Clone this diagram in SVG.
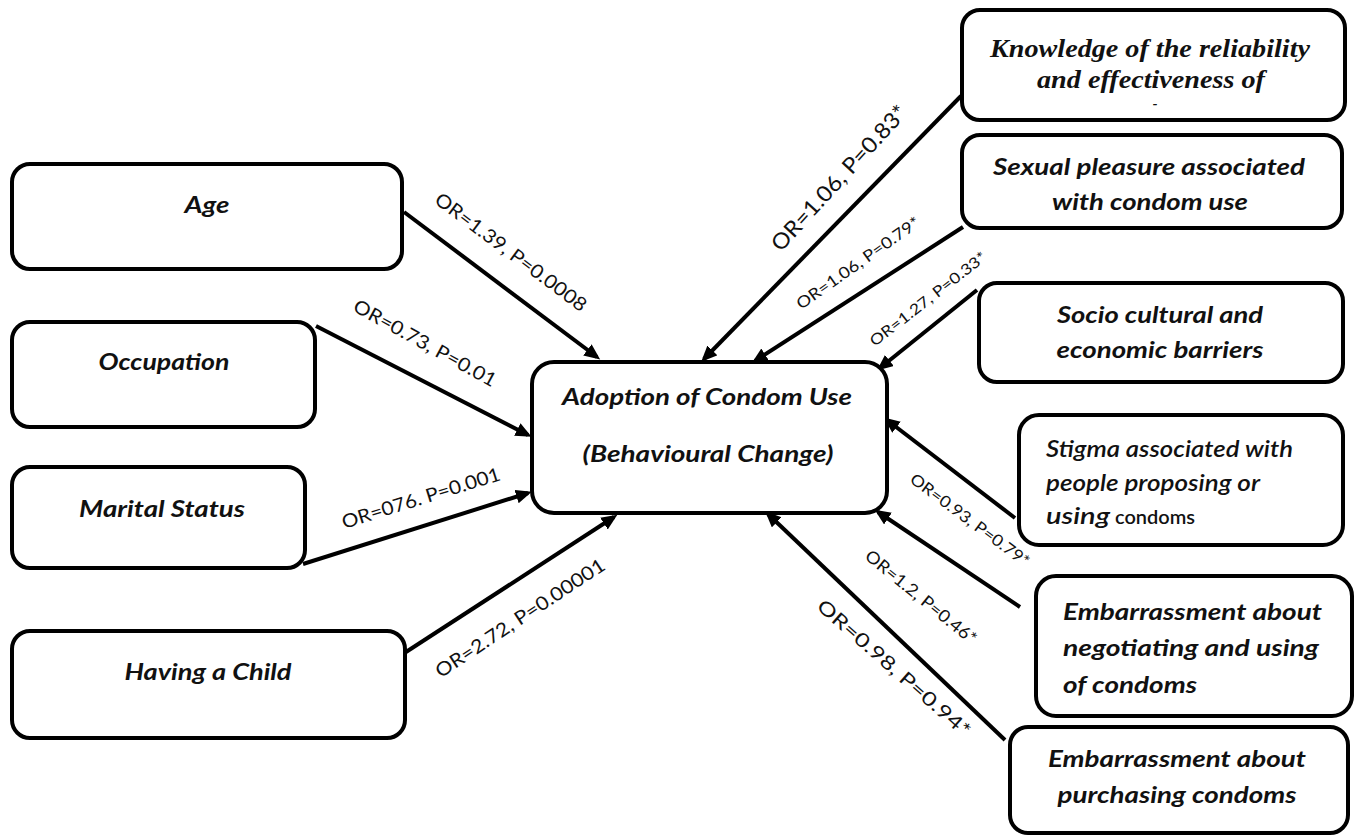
<svg xmlns="http://www.w3.org/2000/svg" width="1356" height="838" viewBox="0 0 1356 838">
<style>
.box{fill:#fff;stroke:#000;stroke-width:4}
.nt{font-family:Lato,"Liberation Sans",sans-serif;font-style:italic;font-weight:bold;font-size:23px;fill:#111}
.ser{font-family:"Liberation Serif",serif;font-style:italic;font-weight:bold;font-size:25px;fill:#111}
.lab{font-family:Lato,"Liberation Sans",sans-serif;font-size:19px;fill:#111}
.edge{stroke:#000;stroke-width:4;fill:none;marker-end:url(#ah)}
</style>
<defs>
<marker id="ah" markerUnits="userSpaceOnUse" markerWidth="17" markerHeight="15" refX="12" refY="7" orient="auto" viewBox="0 0 17 15">
<path d="M0,0 L16,7 L0,14 z" fill="#000"/>
</marker>
</defs>
<rect width="1356" height="838" fill="#fff"/>

<g id="connectors">
<line class="edge" x1="404" y1="212" x2="597" y2="357"/>
<line class="edge" x1="316" y1="326" x2="528" y2="435"/>
<line class="edge" x1="303" y1="564" x2="528" y2="493"/>
<line class="edge" x1="406" y1="652" x2="614" y2="517"/>
<line class="edge" x1="961" y1="96" x2="704" y2="359"/>
<line class="edge" x1="963" y1="227" x2="755" y2="361"/>
<line class="edge" x1="977" y1="290" x2="880" y2="368"/>
<line class="edge" x1="1015" y1="518" x2="887" y2="420"/>
<line class="edge" x1="1020" y1="607" x2="878" y2="512"/>
<line class="edge" x1="1005" y1="740" x2="768" y2="514"/>
</g>

<g id="edge-labels">
<text class="lab" transform="translate(511,252) rotate(36.8)" text-anchor="middle" dy="0.35em" textLength="184" lengthAdjust="spacingAndGlyphs">OR=1.39, P=0.0008</text>
<text class="lab" transform="translate(425,343) rotate(28.8)" text-anchor="middle" dy="0.35em" textLength="160" lengthAdjust="spacingAndGlyphs">OR=0.73, P=0.01</text>
<text class="lab" transform="translate(421,498) rotate(-17.3)" text-anchor="middle" dy="0.35em" textLength="165" lengthAdjust="spacingAndGlyphs">OR=076. P=0.001</text>
<text class="lab" transform="translate(520,618) rotate(-33.5)" text-anchor="middle" dy="0.35em" textLength="199" lengthAdjust="spacingAndGlyphs">OR=2.72, P=0.00001</text>
<text class="lab" style="font-size:22px" transform="translate(839,178) rotate(-47.4)" text-anchor="middle" dy="0.35em" textLength="189" lengthAdjust="spacingAndGlyphs">OR=1.06, P=0.83*</text>
<text class="lab" style="font-size:16px" transform="translate(858,263) rotate(-35.3)" text-anchor="middle" dy="0.35em" textLength="147" lengthAdjust="spacingAndGlyphs">OR=1.06, P=0.79*</text>
<text class="lab" style="font-size:15px" transform="translate(928,299) rotate(-37.9)" text-anchor="middle" dy="0.35em" textLength="143" lengthAdjust="spacingAndGlyphs">OR=1.27, P=0.33*</text>
<text class="lab" style="font-size:16px" transform="translate(970,520) rotate(36.6)" text-anchor="middle" dy="0.35em" textLength="144" lengthAdjust="spacingAndGlyphs">OR=0.93, P=0.79*</text>
<text class="lab" style="font-size:17px" transform="translate(921,597) rotate(39.1)" text-anchor="middle" dy="0.35em" textLength="138" lengthAdjust="spacingAndGlyphs">OR=1.2, P=0.46*</text>
<text class="lab" style="font-size:19px" transform="translate(894,668) rotate(41.3)" text-anchor="middle" dy="0.35em" textLength="197" lengthAdjust="spacingAndGlyphs">OR=0.98, P=0.94*</text>
</g>

<g id="center">
<rect class="box" x="532" y="362" width="355" height="151" rx="22"/>
<text class="nt" x="707" y="405" text-anchor="middle" textLength="290" lengthAdjust="spacingAndGlyphs">Adoption of Condom Use</text>
<text class="nt" x="708" y="462" text-anchor="middle" textLength="251" lengthAdjust="spacingAndGlyphs">(Behavioural Change)</text>
</g>

<g id="age">
<rect class="box" x="12" y="164" width="390" height="105" rx="18"/>
<text class="nt" x="207" y="213" text-anchor="middle" textLength="45" lengthAdjust="spacingAndGlyphs">Age</text>
</g>
<g id="occupation">
<rect class="box" x="12" y="322" width="303" height="105" rx="18"/>
<text class="nt" x="164" y="370" text-anchor="middle" textLength="131" lengthAdjust="spacingAndGlyphs">Occupation</text>
</g>
<g id="marital">
<rect class="box" x="12" y="467" width="293" height="101" rx="18"/>
<text class="nt" x="162" y="517" text-anchor="middle" textLength="166" lengthAdjust="spacingAndGlyphs">Marital Status</text>
</g>
<g id="child">
<rect class="box" x="12" y="631" width="393" height="107" rx="18"/>
<text class="nt" x="208" y="680" text-anchor="middle" textLength="167" lengthAdjust="spacingAndGlyphs">Having a Child</text>
</g>

<g id="knowledge">
<rect class="box" x="962" y="10" width="383" height="110" rx="18"/>
<text class="ser" x="1150" y="57" text-anchor="middle" textLength="320" lengthAdjust="spacingAndGlyphs">Knowledge of the reliability</text>
<text class="ser" x="1151" y="88" text-anchor="middle" textLength="228" lengthAdjust="spacingAndGlyphs">and effectiveness of</text>
<text class="ser" style="font-size:14px" x="1155" y="108" text-anchor="middle">-</text>
</g>
<g id="sexual">
<rect class="box" x="962" y="135" width="380" height="93" rx="18"/>
<text class="nt" x="1149" y="175" text-anchor="middle" textLength="312" lengthAdjust="spacingAndGlyphs">Sexual pleasure associated</text>
<text class="nt" x="1150" y="210" text-anchor="middle" textLength="196" lengthAdjust="spacingAndGlyphs">with condom use</text>
</g>
<g id="socio">
<rect class="box" x="979" y="283" width="364" height="99" rx="18"/>
<text class="nt" x="1160" y="323" text-anchor="middle" textLength="206" lengthAdjust="spacingAndGlyphs">Socio cultural and</text>
<text class="nt" x="1160" y="358" text-anchor="middle" textLength="207" lengthAdjust="spacingAndGlyphs">economic barriers</text>
</g>
<g id="stigma">
<rect class="box" x="1019" y="415" width="324" height="130" rx="20"/>
<text class="nt" style="font-weight:600;font-size:22px" x="1046" y="457" textLength="247" lengthAdjust="spacingAndGlyphs">Stigma associated with</text>
<text class="nt" style="font-weight:600;font-size:22px" x="1046" y="491" textLength="214" lengthAdjust="spacingAndGlyphs">people proposing or</text>
<text class="nt" style="font-weight:600;font-size:22px" x="1046" y="524" textLength="64" lengthAdjust="spacingAndGlyphs">using</text>
<text class="nt" style="font-weight:600;font-style:normal;font-size:19px" x="1115" y="524" textLength="80" lengthAdjust="spacingAndGlyphs">condoms</text>
</g>
<g id="negotiating">
<rect class="box" x="1036" y="576" width="316" height="140" rx="20"/>
<text class="nt" x="1063" y="620" textLength="259" lengthAdjust="spacingAndGlyphs">Embarrassment about</text>
<text class="nt" x="1063" y="656" textLength="256" lengthAdjust="spacingAndGlyphs">negotiating and using</text>
<text class="nt" x="1063" y="693" textLength="134" lengthAdjust="spacingAndGlyphs">of condoms</text>
</g>
<g id="purchasing">
<rect class="box" x="1010" y="727" width="338" height="106" rx="18"/>
<text class="nt" x="1177" y="767" text-anchor="middle" textLength="258" lengthAdjust="spacingAndGlyphs">Embarrassment about</text>
<text class="nt" x="1177" y="803" text-anchor="middle" textLength="239" lengthAdjust="spacingAndGlyphs">purchasing condoms</text>
</g>
</svg>
